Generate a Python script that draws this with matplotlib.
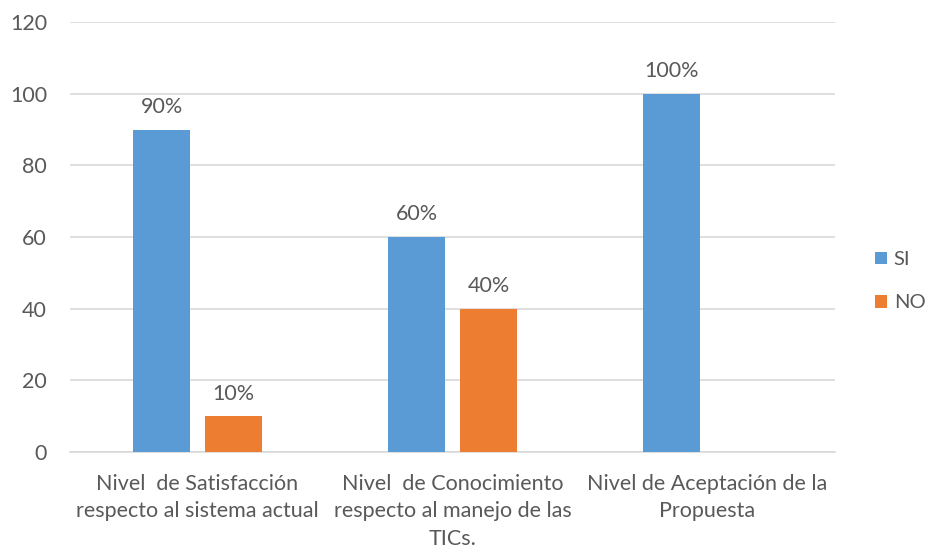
import matplotlib.pyplot as plt
import numpy as np

plt.rcParams['font.family'] = ['Lato', 'DejaVu Sans']

# Survey results per indicator
categories = ['Nivel  de Satisfacción\nrespecto al sistema actual',
              'Nivel  de Conocimiento\nrespecto al manejo de las\nTICs.',
              'Nivel de Aceptación de la\nPropuesta']
si_values = [90, 60, 100]
no_values = [10, 40, 0]
si_labels = ['90%', '60%', '100%']
no_labels = ['10%', '40%', '']

text_color = '#595959'
blue = '#5B9BD5'
orange = '#ED7D31'
fs = 15.5

fig = plt.figure(figsize=(9.28, 5.53), dpi=100)
ax = fig.add_axes([70 / 928, 1 - 452 / 553, 765 / 928, 430 / 553])

x = np.arange(len(categories))
width = 0.22
offset = 0.141

bars_si = ax.bar(x - offset, si_values, width, color=blue, label='SI', zorder=3)
bars_no = ax.bar(x + offset, no_values, width, color=orange, label='NO', zorder=3)

# Percentage labels above each bar
ax.bar_label(bars_si, labels=si_labels, padding=9, fontsize=fs, color=text_color)
ax.bar_label(bars_no, labels=no_labels, padding=9, fontsize=fs, color=text_color)

ax.set_xlim(-0.5, 2.5)
ax.set_ylim(0, 120)
ax.set_yticks(np.arange(0, 121, 20))
ax.set_xticks(x)
ax.set_xticklabels(categories, fontsize=fs, color=text_color, linespacing=1.45)
ax.tick_params(axis='y', labelsize=fs, colors=text_color, length=0, pad=16.5)
ax.tick_params(axis='x', length=0, pad=16)

ax.grid(axis='y', color='#D9D9D9', linewidth=1.2, zorder=0)
for side in ['top', 'right', 'left']:
    ax.spines[side].set_visible(False)
ax.spines['bottom'].set_color('#D9D9D9')
ax.spines['bottom'].set_linewidth(1.2)

ax.legend(loc='center left', bbox_to_anchor=(1.036, 0.397), frameon=False,
          fontsize=14.5, labelcolor=text_color, handlelength=0.6,
          handleheight=0.6, handletextpad=0.35, labelspacing=1.3,
          borderaxespad=0.2)

plt.savefig('out.png', dpi=100)
